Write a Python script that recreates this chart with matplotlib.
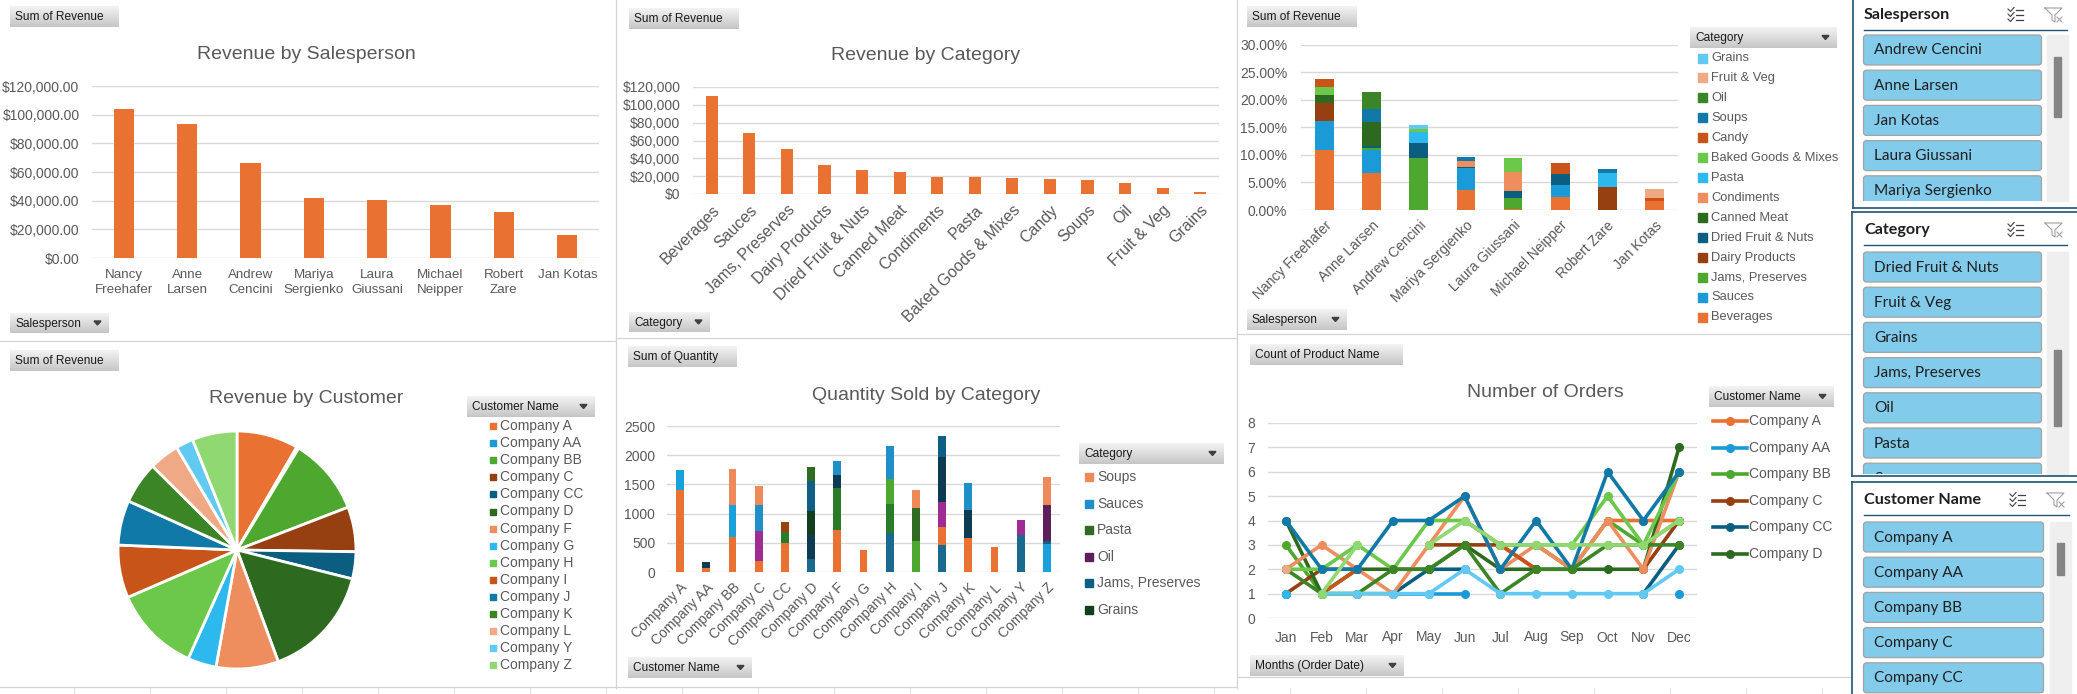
import numpy as np
import matplotlib
matplotlib.use("Agg")
import matplotlib.pyplot as plt
from matplotlib.patches import Rectangle, FancyBboxPatch, Polygon
from matplotlib.colors import LinearSegmentedColormap

nan = np.nan

# ── data ────────────────────────────────────────────────────────────────────
salespeople = ["Nancy Freehafer", "Anne Larsen", "Andrew Cencini", "Mariya Sergienko",
               "Laura Giussani", "Michael Neipper", "Robert Zare", "Jan Kotas"]
sp_revenue = [104000, 93500, 66300, 41900, 40500, 37000, 32100, 16050]

categories = ["Beverages", "Sauces", "Jams, Preserves", "Dairy Products", "Dried Fruit & Nuts",
              "Canned Meat", "Condiments", "Pasta", "Baked Goods & Mixes", "Candy", "Soups",
              "Oil", "Fruit & Veg", "Grains"]
cat_revenue = [110300, 68600, 50600, 32600, 27000, 24800, 19100, 19100, 18000, 16900,
               15800, 12400, 6750, 2250]

# share of total revenue (%) per salesperson, one list per category
share_beverages = [10.9, 6.8, 0, 3.7, 0.2, 2.4, 0, 1.7]
share_sauces = [5.3, 4.2, 0, 4.0, 0, 2.1, 0, 0]
share_jams = [0, 0.3, 9.5, 0, 2.0, 0, 0, 0]
share_dairy = [3.3, 0, 0, 0, 0, 0, 4.2, 0]
share_dried = [0, 0.3, 2.7, 0.2, 1.3, 2.0, 0, 0]
share_canned = [1.4, 4.4, 0, 0, 0, 0, 0, 0]
share_condiments = [0, 0, 0, 1.0, 3.5, 0, 0, 0]
share_pasta = [0, 0, 2.0, 0, 0, 0, 2.5, 0]
share_baked = [1.5, 0, 0.5, 0, 2.5, 0, 0, 0]
share_candy = [1.5, 0, 0, 0, 0, 2.0, 0, 0.5]
share_soups = [0, 2.4, 0, 0.7, 0, 0, 0.7, 0]
share_oil = [0, 3.1, 0, 0, 0, 0, 0, 0]
share_fruitveg = [0, 0, 0, 0, 0, 0, 0, 1.6]
share_grains = [0, 0, 0.8, 0, 0, 0, 0, 0]

customers = ["Company A", "Company AA", "Company BB", "Company C", "Company CC", "Company D",
             "Company F", "Company G", "Company H", "Company I", "Company J", "Company K",
             "Company L", "Company Y", "Company Z"]
cust_revenue = [36200, 1300, 45300, 26300, 15900, 66800, 36600, 16800, 50900, 31000,
                26300, 24600, 17700, 10300, 26300]

# quantity per customer, stacked in this order (bottom -> top)
qty_baked = [0, 0, 0, 0, 0, 228, 0, 0, 672, 0, 467, 0, 0, 638, 0]
qty_beverages = [1407, 74, 604, 194, 501, 0, 723, 382, 0, 0, 307, 587, 433, 0, 0]
qty_candy = [341, 0, 546, 0, 0, 0, 0, 0, 0, 0, 0, 0, 0, 0, 484]
qty_canned = [0, 0, 0, 512, 0, 0, 0, 0, 0, 0, 428, 0, 0, 256, 0]
qty_condiments = [0, 0, 0, 0, 188, 0, 718, 0, 495, 0, 0, 0, 0, 0, 0]
qty_dairy = [0, 0, 0, 0, 171, 0, 0, 0, 0, 0, 0, 0, 0, 0, 0]
qty_dried = [0, 0, 0, 0, 0, 0, 0, 0, 428, 535, 0, 0, 0, 0, 0]
qty_fruitveg = [0, 103, 0, 0, 0, 410, 222, 0, 0, 0, 768, 478, 0, 0, 0]
qty_grains = [0, 0, 0, 0, 0, 410, 0, 0, 0, 0, 0, 0, 0, 0, 0]
qty_jams = [0, 0, 0, 0, 0, 512, 0, 0, 0, 0, 359, 0, 0, 0, 51]
qty_oil = [0, 0, 0, 0, 0, 0, 0, 0, 0, 0, 0, 0, 0, 0, 615]
qty_pasta = [0, 0, 0, 0, 0, 240, 0, 0, 0, 564, 0, 0, 0, 0, 0]
qty_sauces = [0, 0, 0, 444, 0, 0, 239, 0, 563, 0, 0, 461, 0, 0, 0]
qty_soups = [0, 0, 615, 325, 0, 0, 0, 0, 0, 308, 0, 0, 0, 0, 479]
qty_names = ["Baked Goods & Mixes", "Beverages", "Candy", "Canned Meat", "Condiments",
             "Dairy Products", "Dried Fruit & Nuts", "Fruit & Veg", "Grains",
             "Jams, Preserves", "Oil", "Pasta", "Sauces", "Soups"]

months = ["Jan", "Feb", "Mar", "Apr", "May", "Jun", "Jul", "Aug", "Sep", "Oct", "Nov", "Dec"]
orders_a = [nan, nan, nan, nan, nan, 4, 3, 3, 2, 4, 4, 4]
orders_aa = [1, nan, nan, 1, 1, 1, nan, nan, nan, nan, nan, 1]
orders_bb = [3, 1, 1, 1, nan, nan, nan, 3, 2, 4, 3, 4]
orders_c = [1, 2, 2, nan, 3, 3, 3, 2, nan, nan, 2, 4]
orders_cc = [nan, nan, nan, 1, 2, 2, nan, nan, nan, nan, 1, 3]
orders_d = [4, 1, 2, 2, 2, 3, 2, 2, 2, 2, 2, 7]
orders_f = [2, 3, 2, 1, 3, 5, 2, 3, 2, 4, 2, 6]
orders_g = [1, nan, nan, nan, nan, nan, nan, nan, nan, nan, nan, nan]
orders_h = [2, 2, 3, 2, 4, 4, 3, 3, 3, 5, 3, 6]
orders_i = [nan, 1, 2, nan, nan, nan, 3, 2, nan, nan, nan, nan]
orders_j = [4, 2, 2, 4, 4, 5, 2, 4, 2, 6, 4, 6]
orders_k = [2, 1, 1, 2, 2, 3, 1, 2, 2, 3, 3, 3]
orders_l = [2, nan, nan, 1, nan, nan, nan, nan, nan, nan, nan, nan]
orders_y = [nan, 1, 1, 1, 1, 2, 1, 1, 1, 1, 1, 2]
orders_z = [nan, 1, 3, nan, 3, 4, 3, 3, 3, 3, 3, 4]

# ── style ───────────────────────────────────────────────────────────────────
plt.rcParams['font.family'] = ['Liberation Sans Narrow', 'Liberation Sans', 'DejaVu Sans']
UI_FONT = ['Lato', 'DejaVu Sans']
GREY = "#595959"
GRID = "#D9D9D9"
palette = ["#E97132", "#1A9BD7", "#4EA72E", "#964011", "#0B5E80", "#2D6A1F", "#EE8D5D",
           "#2DB8EE", "#6BC84A", "#C9541A", "#1079A8", "#3C8527", "#F0A985", "#62C9F2", "#8FD872"]
qty_colors = ["#1A6A90", "#E97132", "#1AA0DB", "#A02B93", "#2A7A2A", "#99420F", "#4EA72E",
              "#0F3A54", "#143F1F", "#0F5F85", "#5E1F5A", "#2F6B22", "#1F8FC8", "#EE8A5A"]

W, H = 2077, 694
fig = plt.figure(figsize=(W / 100, H / 100), dpi=100)
fig.patch.set_facecolor("white")


def add_ax(x0, y0, x1, y1, **kw):
    return fig.add_axes([x0 / W, 1 - y1 / H, (x1 - x0) / W, (y1 - y0) / H], **kw)


def base_style(ax, ticks, labels, ypad):
    ax.set_ylim(ticks[0], ticks[-1])
    ax.set_yticks(ticks)
    ax.set_yticklabels(labels)
    ax.yaxis.grid(True, color=GRID, lw=1.0)
    ax.set_axisbelow(True)
    for s in ax.spines.values():
        s.set_visible(False)
    ax.tick_params(axis="both", length=0, colors=GREY, labelsize=10)
    ax.tick_params(axis="y", pad=ypad)


# ── Revenue by Salesperson ──────────────────────────────────────────────────
ax1 = add_ax(92, 86, 599, 258)
x = np.arange(len(salespeople))
ax1.bar(x, sp_revenue, width=0.32, color=palette[0], zorder=2)
ax1.set_xlim(-0.5, len(x) - 0.5)
t = np.arange(0, 120001, 20000)
base_style(ax1, t, [f"${v:,.2f}" for v in t], 9)
ax1.set_xticks(x)
ax1.set_xticklabels([s.replace(" ", "\n") if len(s) > 9 else s for s in salespeople],
                    linespacing=1.3, va="top", fontsize=9.6)
ax1.tick_params(axis="x", pad=8)

# ── Revenue by Category ─────────────────────────────────────────────────────
ax2 = add_ax(693, 87, 1219, 194)
x = np.arange(len(categories))
ax2.bar(x, cat_revenue, width=0.32, color=palette[0], zorder=2)
ax2.set_xlim(-0.5, len(x) - 0.5)
base_style(ax2, t, [f"${v:,.0f}" for v in t], 9)
ax2.set_xticks(x)
ax2.set_xticklabels(categories, rotation=45, ha="right", va="top", rotation_mode="anchor",
                    fontsize=11.5)
ax2.tick_params(axis="x", pad=6)

# ── Revenue share: salesperson x category ───────────────────────────────────
ax3 = add_ax(1301, 45, 1678, 210)
share_rows = [share_beverages, share_sauces, share_jams, share_dairy, share_dried,
              share_canned, share_condiments, share_pasta, share_baked, share_candy,
              share_soups, share_oil, share_fruitveg, share_grains]
x = np.arange(len(salespeople))
bottom = np.zeros(len(salespeople))
for i, row in enumerate(share_rows):
    v = np.array(row) / 100.0
    ax3.bar(x, v, bottom=bottom, width=0.4, color=palette[i], zorder=2)
    bottom += v
ax3.set_xlim(-0.5, len(x) - 0.5)
t3 = np.arange(0, 0.3001, 0.05)
base_style(ax3, t3, [f"{v * 100:.2f}%" for v in t3], 10)
ax3.set_xticks(x)
ax3.set_xticklabels(salespeople, rotation=45, ha="right", va="top", rotation_mode="anchor")
ax3.tick_params(axis="x", pad=6)

# ── Revenue by Customer (pie) ───────────────────────────────────────────────
ax4 = add_ax(116, 429, 358, 671)
ax4.pie(cust_revenue, colors=palette, startangle=90, counterclock=False, radius=1,
        wedgeprops=dict(edgecolor="white", linewidth=2))
ax4.set_xlim(-1.017, 1.017)
ax4.set_ylim(-1.017, 1.017)
ax4.set_aspect("equal")

# ── Quantity Sold by Category ───────────────────────────────────────────────
ax5 = add_ax(667, 426, 1060, 572)
qty_rows = [qty_baked, qty_beverages, qty_candy, qty_canned, qty_condiments, qty_dairy,
            qty_dried, qty_fruitveg, qty_grains, qty_jams, qty_oil, qty_pasta,
            qty_sauces, qty_soups]
x = np.arange(len(customers))
bottom = np.zeros(len(customers))
for row, c in zip(qty_rows, qty_colors):
    ax5.bar(x, row, bottom=bottom, width=0.3, color=c, zorder=2)
    bottom += np.array(row)
ax5.set_xlim(-0.5, len(x) - 0.5)
t5 = np.arange(0, 2501, 500)
base_style(ax5, t5, [str(v) for v in t5], 8.5)
ax5.set_xticks(x)
ax5.set_xticklabels(customers, rotation=45, ha="right", va="top", rotation_mode="anchor")
ax5.tick_params(axis="x", pad=6)

# ── Number of Orders ────────────────────────────────────────────────────────
ax6 = add_ax(1268, 423, 1697, 618)
orders = [orders_a, orders_aa, orders_bb, orders_c, orders_cc, orders_d, orders_f, orders_g,
          orders_h, orders_i, orders_j, orders_k, orders_l, orders_y, orders_z]
x = np.arange(len(months))
for row, c in zip(orders, palette):
    ax6.plot(x, row, color=c, lw=2.6, marker="o", ms=5.5, zorder=3,
             solid_joinstyle="round", solid_capstyle="round")
ax6.set_xlim(-0.5, len(x) - 0.5)
t6 = np.arange(0, 9)
base_style(ax6, t6, [str(v) for v in t6], 9)
ax6.set_xticks(x)
ax6.set_xticklabels(months)
ax6.tick_params(axis="x", pad=9)

# ── overlay (pixel coordinates) ─────────────────────────────────────────────
ov = fig.add_axes([0, 0, 1, 1], zorder=10)
ov.axis("off")

# panel borders and sheet grid
BORDER = "#D4D4D4"
for xs, ys in [((616, 616), (0, 688)), ((1237, 1237), (0, 688)), ((0, 616), (341, 341)),
               ((616, 1237), (338, 338)), ((1237, 1852), (334, 334)),
               ((0, 1237), (687, 687)), ((1238, 1852), (677, 677))]:
    ov.plot(xs, ys, color=BORDER, lw=0.9)
for gx in np.arange(74, 1852, 76.0):
    ov.plot((gx, gx), (688, 694), color="#E2E2E2", lw=0.8)

# titles
for tx, ty, label in [(306, 54, "Revenue by Salesperson"), (926, 55, "Revenue by Category"),
                      (306, 398, "Revenue by Customer"), (926, 395, "Quantity Sold by Category"),
                      (1545, 392, "Number of Orders")]:
    ov.text(tx, ty, label, ha="center", va="center", fontsize=14, color=GREY)

# field buttons
btn_cmap = LinearSegmentedColormap.from_list("btn", ["#F3F3F3", "#C6C6C6"])
grad = np.linspace(0, 1, 32).reshape(-1, 1)


def button(x0, y0, x1, y1, label, arrow=False):
    ov.imshow(grad, extent=(x0, x1, y1, y0), cmap=btn_cmap, aspect="auto",
              interpolation="bilinear", zorder=1)
    yc = (y0 + y1) / 2
    ov.text(x0 + 5, yc + 0.5, label, ha="left", va="center", fontsize=8.6, color="#1A1A1A", zorder=2)
    if arrow:
        ov.add_patch(Polygon([[x1 - 15, yc - 2], [x1 - 8, yc - 2], [x1 - 11.5, yc + 2]],
                             closed=True, color="#404040", zorder=2))


for b in [(10, 6, 119, 27, "Sum of Revenue"), (10, 313, 109, 333, "Salesperson", True),
          (629, 8, 739, 29, "Sum of Revenue"), (629, 312, 710, 332, "Category", True),
          (1247, 6, 1357, 27, "Sum of Revenue"), (1247, 309, 1347, 330, "Salesperson", True),
          (10, 350, 119, 371, "Sum of Revenue"), (628, 346, 737, 367, "Sum of Quantity"),
          (628, 657, 752, 678, "Customer Name", True),
          (1250, 344, 1403, 365, "Count of Product Name"),
          (1250, 655, 1404, 676, "Months (Order Date)", True),
          (1690, 27, 1837, 48, "Category", True), (467, 396, 595, 417, "Customer Name", True),
          (1079, 443, 1224, 464, "Category", True), (1709, 386, 1834, 407, "Customer Name", True)]:
    button(*b)

# legends
for i, k in enumerate(range(len(categories) - 1, -1, -1)):
    y = 58 + 19.95 * i
    ov.add_patch(Rectangle((1698, y - 4.5), 9, 9, color=palette[k]))
    ov.text(1711, y, categories[k], va="center", fontsize=9.3, color=GREY)

for i, name in enumerate(customers):
    y = 426 + 17.1 * i
    ov.add_patch(Rectangle((490, y - 3), 6, 6, color=palette[i]))
    ov.text(500, y, name, va="center", fontsize=10, color=GREY)

for i, k in enumerate(range(len(qty_names) - 1, len(qty_names) - 7, -1)):
    y = 477 + 26.6 * i
    ov.add_patch(Rectangle((1085, y - 4), 8, 8, color=qty_colors[k]))
    ov.text(1097, y, qty_names[k], va="center", fontsize=10, color=GREY)

for i in range(6):
    y = 421 + 26.6 * i
    ov.plot((1713, 1747), (y, y), color=palette[i], lw=2.6)
    ov.plot(1730, y, marker="o", ms=5.5, color=palette[i])
    ov.text(1749, y, customers[i], va="center", fontsize=10, color=GREY)

# slicers
SLB = "#1F5473"
for xs, ys in [((1853, 1853), (0, 208)), ((1853, 2077), (208, 208)),
               ((1852, 2077), (212, 212)), ((1852, 1852), (212, 476)),
               ((1852, 2077), (476, 476)), ((1852, 2077), (482, 482)),
               ((1852, 1852), (482, 694))]:
    ov.plot(xs, ys, color=SLB, lw=1.2)


def slicer_icons(cy, dx=0):
    x0 = 2008 + dx
    for r in (-5, 0, 5):
        ov.plot([x0, x0 + 2.5, x0 + 6], [cy + r - 1, cy + r + 1.5, cy + r - 2.5], color="#404040", lw=0.8)
        ov.plot([x0 + 8, x0 + 15], [cy + r, cy + r], color="#404040", lw=0.9)
    f0 = 2045 + dx
    ov.plot([f0, f0 + 17, f0 + 10, f0 + 10, f0 + 7, f0 + 7, f0],
            [cy - 7, cy - 7, cy, cy + 7, cy + 5, cy, cy - 7], color="#A0A0A0", lw=0.8)
    ov.plot([f0 + 12, f0 + 17], [cy + 2, cy + 7], color="#A0A0A0", lw=0.8)
    ov.plot([f0 + 12, f0 + 17], [cy + 7, cy + 2], color="#A0A0A0", lw=0.8)


def slicer(title, hy, items, top, bottom, sb, thumb, dx=0):
    ov.text(1864, hy, title, va="center", fontsize=11.6, fontweight="bold",
            color="#1F1F1F", family=UI_FONT)
    slicer_icons(hy, dx)
    ov.plot((1864, 2067 + dx), (hy + 15, hy + 15), color=SLB, lw=1.0)
    ov.add_patch(Rectangle((sb[0], top), sb[1] - sb[0], bottom - top, color="#EFEFEF"))
    ov.add_patch(Rectangle((thumb[0], thumb[2]), thumb[1] - thumb[0], thumb[3] - thumb[2],
                           color="#858585"))
    lx = add_ax(1860, top - 1, 2048, bottom, zorder=11)
    lx.set_xlim(1860, 2048)
    lx.set_ylim(bottom, top - 1)
    lx.axis("off")
    for i, name in enumerate(items):
        y = top + 35.2 * i
        if y >= bottom:
            break
        lx.add_patch(FancyBboxPatch((1863.5, y), 178 + dx, 30,
                                    boxstyle="round,pad=0,rounding_size=3",
                                    facecolor="#83CBEB", edgecolor="#A3A3A3", lw=0.9))
        if y + 8 < bottom:
            lx.text(1874, y + 15.5, name, va="center", fontsize=11.1, color="#1F1F1F",
                    family=UI_FONT, clip_on=True)


slicer("Salesperson", 15, sorted(salespeople), 35, 201, (2047, 2068), (2054, 2061, 57, 117))
slicer("Category", 230, sorted(categories)[6:], 252, 474, (2047, 2068), (2054, 2061, 350, 426))
slicer("Customer Name", 500, customers, 522, 694, (2050, 2071), (2057, 2064, 543, 575), dx=2)

ov.set_xlim(0, W)
ov.set_ylim(H, 0)

fig.savefig("out.png", dpi=100, facecolor="white")
